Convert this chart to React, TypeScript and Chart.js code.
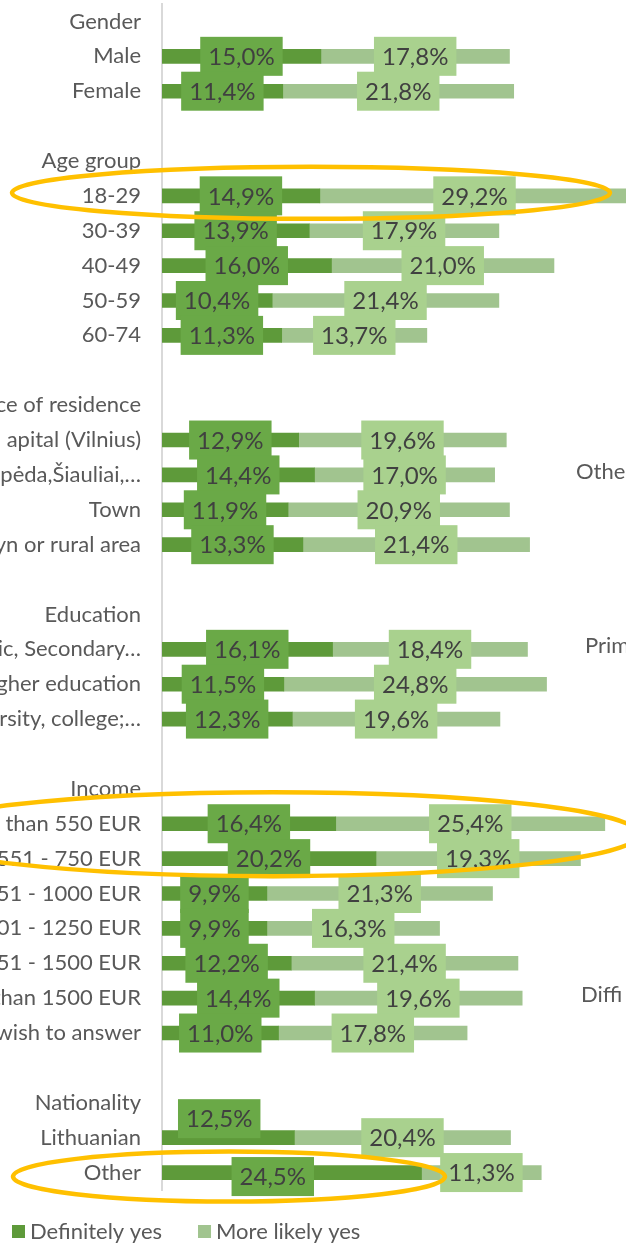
import { useEffect, useRef } from "react";
import { Chart, registerables } from "chart.js";

Chart.register(...registerables);

// ---- data (visible part of the cropped chart) ----
const categories = [
  "Gender", "Male", "Female", "",
  "Age group", "18-29", "30-39", "40-49", "50-59", "60-74", "",
  "ce of residence", "apital (Vilnius)", "ipėda,Šiauliai,…", "Town", "yn or rural area", "",
  "Education", "asic, Secondary…", "gher education", "ersity, college;…", "",
  "Income", "s than 550 EUR", "551 - 750 EUR", "751 - 1000 EUR", "001 - 1250 EUR",
  "251 - 1500 EUR", "than 1500 EUR", "wish to answer", "",
  "Nationality", "Lithuanian", "Other",
];

const definitelyYes = [
  null, 15.0, 11.4, null,
  null, 14.9, 13.9, 16.0, 10.4, 11.3, null,
  null, 12.9, 14.4, 11.9, 13.3, null,
  null, 16.1, 11.5, 12.3, null,
  null, 16.4, 20.2, 9.9, 9.9, 12.2, 14.4, 11.0, null,
  null, 12.5, 24.5,
];

const moreLikelyYes = [
  null, 17.8, 21.8, null,
  null, 29.2, 17.9, 21.0, 21.4, 13.7, null,
  null, 19.6, 17.0, 20.9, 21.4, null,
  null, 18.4, 24.8, 19.6, null,
  null, 25.4, 19.3, 21.3, 16.3, 21.4, 19.6, 17.8, null,
  null, 20.4, 11.3,
];

const seriesNames = ["Definitely yes", "More likely yes"];

// cropped category labels of the neighbouring chart, visible at the right edge
const neighbourLabels = ["Othe", "Prim", "Diffi"];
const neighbourRows = ["ipėda,Šiauliai,…", "asic, Secondary…", "than 1500 EUR"];

// highlighted rows (yellow ellipses)
const highlightRows = [["18-29"], ["s than 550 EUR", "551 - 750 EUR"], ["Other"]];

// ---- styles ----
const FONT = "Lato";
const barColors = ["#5E9A3A", "#A1C48F"];
const labelFills = ["#6AA947", "#A9D18E"];
const labelShift: Record<string, [number, number]> = {
  Lithuanian: [-9, -19],
  Other: [-19, 4],
};
const ellipseGeom = [
  { cx: 311, rx: 299, ry: 26, dy: -3 },
  { cx: 273, rx: 366, ry: 42, dy: -7 },
  { cx: 229, rx: 216, ry: 25, dy: 4 },
];
const neighbourX = [576, 585, 581];

const fmt = (v: number) => v.toFixed(1).replace(".", ",") + "%";

const boxLabels = {
  id: "boxLabels",
  afterDatasetsDraw(chart: any) {
    const ctx = chart.ctx;
    ctx.save();
    ctx.font = `24px ${FONT}`;
    ctx.textAlign = "center";
    ctx.textBaseline = "middle";
    chart.data.datasets.forEach((ds: any, di: number) => {
      const meta = chart.getDatasetMeta(di);
      meta.data.forEach((el: any, i: number) => {
        const v = ds.data[i];
        if (v == null) return;
        const p = el.getProps(["x", "y", "base"], true);
        const sh = di === 0 ? labelShift[categories[i]] : undefined;
        const cx = (p.x + p.base) / 2 + (sh ? sh[0] : 0);
        const cy = p.y + (sh ? sh[1] : 0);
        const t = fmt(v);
        const w = ctx.measureText(t).width + 16;
        const h = 39;
        ctx.fillStyle = labelFills[di];
        ctx.fillRect(cx - w / 2, cy - h / 2, w, h);
        ctx.fillStyle = "#404040";
        ctx.fillText(t, cx, cy + 1);
      });
    });
    ctx.restore();
  },
};

const extras = {
  id: "extras",
  afterDraw(chart: any) {
    const ctx = chart.ctx;
    const yScale = chart.scales.y;
    ctx.save();
    // neighbour chart labels
    ctx.font = `22px ${FONT}`;
    ctx.fillStyle = "#595959";
    ctx.textAlign = "left";
    ctx.textBaseline = "middle";
    neighbourLabels.forEach((t, k) => {
      const idx = categories.indexOf(neighbourRows[k]);
      ctx.fillText(t, neighbourX[k], yScale.getPixelForValue(idx) - 3);
    });
    // ellipses
    ctx.strokeStyle = "#FFC000";
    ctx.lineWidth = 4.5;
    highlightRows.forEach((rows, k) => {
      const ys = rows.map((r) => yScale.getPixelForValue(categories.indexOf(r)));
      const cy = ys.reduce((a, b) => a + b, 0) / ys.length + ellipseGeom[k].dy;
      const g = ellipseGeom[k];
      ctx.beginPath();
      ctx.ellipse(g.cx, cy, g.rx, g.ry, 0, 0, Math.PI * 2);
      ctx.stroke();
    });
    // legend
    const ly = chart.chartArea.bottom + 42;
    ctx.font = `22px ${FONT}`;
    let x = 12;
    chart.data.datasets.forEach((ds: any) => {
      ctx.fillStyle = ds.backgroundColor;
      ctx.fillRect(x, ly - 7, 13, 13);
      ctx.fillStyle = "#595959";
      ctx.fillText(ds.label, x + 18, ly);
      x += 18 + ctx.measureText(ds.label).width + 36;
    });
    ctx.restore();
  },
};

export default function App() {
  const ref = useRef<HTMLCanvasElement | null>(null);
  useEffect(() => {
    if (!ref.current) return;
    const chart = new Chart(ref.current, {
      type: "bar",
      data: {
        labels: categories,
        datasets: [
          { label: seriesNames[0], data: definitelyYes, backgroundColor: barColors[0], barThickness: 14 },
          { label: seriesNames[1], data: moreLikelyYes, backgroundColor: barColors[1], barThickness: 14 },
        ],
      },
      options: {
        indexAxis: "y",
        responsive: false,
        animation: false,
        events: [],
        layout: { padding: { top: 4, bottom: 55, left: 0, right: 0 } },
        plugins: { legend: { display: false }, tooltip: { enabled: false } },
        scales: {
          x: { display: false, stacked: true, min: 0, max: 43.8 },
          y: {
            stacked: true,
            grid: { display: false, drawTicks: false },
            border: { display: true, color: "#D9D9D9", width: 2 },
            ticks: {
              autoSkip: false,
              padding: 21,
              color: "#595959",
              font: { family: FONT, size: 22 },
            },
            afterFit: (s: any) => {
              s.width = 162;
              s.paddingTop = 0;
              s.paddingBottom = 0;
            },
          },
        },
      },
      plugins: [boxLabels, extras],
    });
    return () => chart.destroy();
  }, []);
  return (
    <div style={{ position: "absolute", left: 0, top: 0, width: 626, height: 1245, overflow: "hidden" }}>
      <canvas ref={ref} width={626} height={1245} style={{ display: "block" }} />
    </div>
  );
}
